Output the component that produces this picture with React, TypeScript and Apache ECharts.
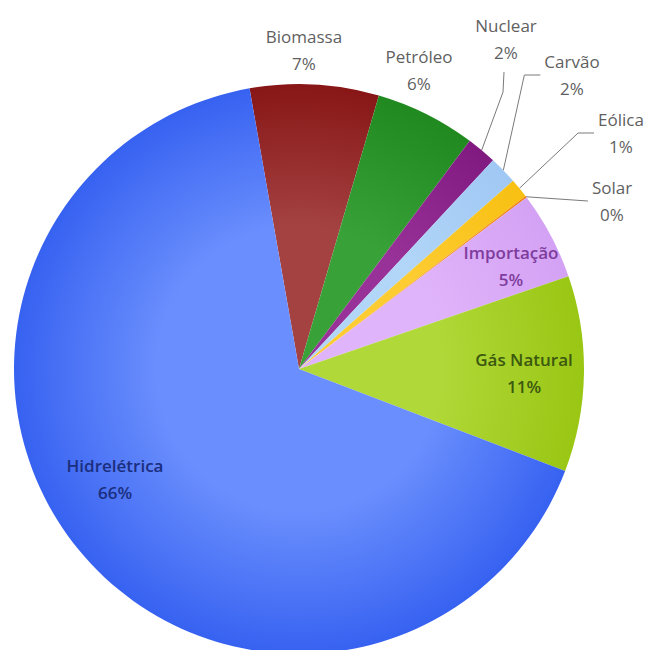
import React, { useEffect, useRef } from "react";
import * as echarts from "echarts";

// ---- data ----
const categories = [
  "Biomassa",
  "Petróleo",
  "Nuclear",
  "Carvão",
  "Eólica",
  "Solar",
  "Importação",
  "Gás Natural",
  "Hidrelétrica",
];
const shares = [7.3, 5.7, 1.7, 1.6, 1.1, 0.1, 5.0, 11.1, 66.4];

// ---- styles ----
const innerColors = ["#a44242", "#38a238", "#983298", "#b2d6f8", "#fdcc32", "#f5a040", "#e0b4fa", "#b0d838", "#6a8efd"];
const outerColors = ["#881616", "#208a20", "#801a80", "#a0c8f4", "#f8c012", "#ee8010", "#d4a2f4", "#9ac614", "#3762f1"];
const insideText = { "Importação": "#7e3c9c", "Gás Natural": "#3b5810", "Hidrelétrica": "#1b2e7e" };
// label block centres (px) and leader style
const labelPos: Record<string, { x: number; y: number; leader?: "up" | "side" }> = {
  "Biomassa": { x: 304, y: 50 },
  "Petróleo": { x: 419, y: 70 },
  "Nuclear": { x: 506, y: 39, leader: "up" },
  "Carvão": { x: 572, y: 75, leader: "side" },
  "Eólica": { x: 621, y: 133, leader: "side" },
  "Solar": { x: 612, y: 201, leader: "side" },
  "Importação": { x: 511, y: 266 },
  "Gás Natural": { x: 524, y: 373 },
  "Hidrelétrica": { x: 115, y: 479 },
};

const CX = 299;
const CY = 369;
const R = 285;

export default function App() {
  const ref = useRef<HTMLDivElement>(null);
  useEffect(() => {
    document.body.style.margin = "0";
    if (!ref.current) return;
    const chart = echarts.init(ref.current, null, { renderer: "svg" });
    const data = categories.map((name, i) => {
      const inside = (insideText as any)[name];
      const hasLine = !!labelPos[name].leader;
      return {
        name,
        value: shares[i],
        itemStyle: {
          color: {
            type: "radial",
            x: CX,
            y: CY,
            r: R,
            global: true,
            colorStops: [
              { offset: 0, color: innerColors[i] },
              { offset: 0.5, color: innerColors[i] },
              { offset: 1, color: outerColors[i] },
            ],
          },
        },
        label: {
          position: inside ? "inside" : "outside",
          color: inside || "#5f5f5f",
          fontWeight: inside ? 600 : 400,
        },
        labelLine: { show: hasLine },
      };
    });
    chart.setOption({
      animation: false,
      backgroundColor: "#ffffff",
      series: [
        {
          type: "pie",
          center: [CX, CY],
          radius: R,
          startAngle: 100,
          clockwise: true,
          avoidLabelOverlap: false,
          data,
          itemStyle: { borderWidth: 0 },
          label: {
            show: true,
            fontFamily: "'Open Sans', sans-serif",
            fontSize: 17,
            lineHeight: 27,
            align: "center",
            formatter: (p: any) => `${p.name}\n${Math.round(p.value)}%`,
          },
          labelLine: {
            show: true,
            smooth: false,
            length: 10,
            length2: 10,
            lineStyle: { color: "#7a7a7a", width: 1 },
          },
          labelLayout: (params: any) => {
            const name = categories[params.dataIndex];
            const pos = labelPos[name];
            const out: any = { x: pos.x, y: pos.y, align: "center", verticalAlign: "middle" };
            if (pos.leader && params.labelLinePoints) {
              const start = params.labelLinePoints[0];
              const w = params.labelRect.width;
              const h = params.labelRect.height;
              if (pos.leader === "up") {
                const end = [pos.x - 2, pos.y + h / 2 + 6];
                const elbow = [end[0] - 1, end[1] + 20];
                out.labelLinePoints = [start, elbow, end];
              } else {
                const end = [pos.x - w / 2 - 4, pos.y];
                const elbow = [end[0] - 16, end[1]];
                out.labelLinePoints = name === "Solar" ? [start, end] : [start, elbow, end];
              }
            }
            return out;
          },
        },
      ],
    });
    return () => chart.dispose();
  }, []);
  return <div ref={ref} style={{ width: 649, height: 650 }} />;
}
